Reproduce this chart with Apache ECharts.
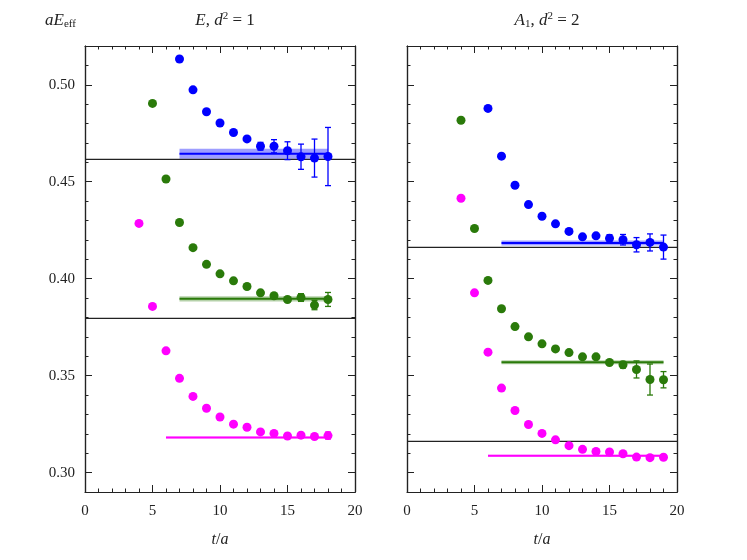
<!DOCTYPE html>
<html>
<head>
<meta charset="utf-8">
<script src="https://cdn.jsdelivr.net/npm/echarts@6/dist/echarts.min.js"></script>
<style>
  html, body { margin: 0; padding: 0; background: #fff; }
  #main { width: 747px; height: 560px; }
</style>
</head>
<body>
<div id="main"></div>
<script>
// left panel: E, d^2 = 1
var leftBlueT = [7, 8, 9, 10, 11, 12, 13, 14, 15, 16, 17, 18];
var leftBlueE = [0.5133, 0.4974, 0.4861, 0.4803, 0.4754, 0.4721, 0.4683, 0.4683, 0.4660, 0.4629, 0.4622, 0.4630];
var leftBlueErr = [0, 0, 0, 0, 0, 0, 0.0020, 0.0034, 0.0046, 0.0065, 0.0098, 0.0150];

var leftGreenT = [5, 6, 7, 8, 9, 10, 11, 12, 13, 14, 15, 16, 17, 18];
var leftGreenE = [0.4904, 0.4514, 0.4290, 0.4160, 0.4074, 0.4025, 0.3989, 0.3960, 0.3927, 0.3912, 0.3893, 0.3903, 0.3864, 0.3893];
var leftGreenErr = [0, 0, 0, 0, 0, 0, 0, 0, 0, 0, 0, 0.0020, 0.0024, 0.0036];

var leftPinkT = [4, 5, 6, 7, 8, 9, 10, 11, 12, 13, 14, 15, 16, 17, 18];
var leftPinkE = [0.4285, 0.3857, 0.3628, 0.3486, 0.3393, 0.3332, 0.3287, 0.3250, 0.3234, 0.3210, 0.3202, 0.3189, 0.3193, 0.3186, 0.3191];
var leftPinkErr = [0, 0, 0, 0, 0, 0, 0, 0, 0, 0, 0, 0, 0, 0, 0.0018];

// fits: [tStart, tEnd, value, error]
var leftFits = [[7, 18, 0.4644, 0.0026], [7, 18, 0.3896, 0.0014], [6, 18, 0.3181, 0.0005]];
var leftThresholds = [0.4615, 0.3795];

// right panel: A1, d^2 = 2
var rightBlueT = [6, 7, 8, 9, 10, 11, 12, 13, 14, 15, 16, 17, 18, 19];
var rightBlueE = [0.4878, 0.4632, 0.4482, 0.4382, 0.4322, 0.4283, 0.4244, 0.4216, 0.4221, 0.4208, 0.4201, 0.4175, 0.4187, 0.4163];
var rightBlueErr = [0, 0, 0, 0, 0, 0, 0, 0, 0, 0.0019, 0.0027, 0.0037, 0.0044, 0.0062];

var rightGreenT = [4, 5, 6, 7, 8, 9, 10, 11, 12, 13, 14, 15, 16, 17, 18, 19];
var rightGreenE = [0.4817, 0.4259, 0.3991, 0.3845, 0.3753, 0.3700, 0.3664, 0.3638, 0.3619, 0.3597, 0.3597, 0.3568, 0.3556, 0.3532, 0.3480, 0.3479];
var rightGreenErr = [0, 0, 0, 0, 0, 0, 0, 0, 0, 0, 0, 0, 0.0017, 0.0044, 0.0080, 0.0042];

var rightPinkT = [4, 5, 6, 7, 8, 9, 10, 11, 12, 13, 14, 15, 16, 17, 18, 19];
var rightPinkE = [0.4415, 0.3927, 0.3621, 0.3436, 0.3320, 0.3248, 0.3202, 0.3169, 0.3139, 0.3120, 0.3109, 0.3106, 0.3097, 0.3080, 0.3077, 0.3079];
var rightPinkErr = [0, 0, 0, 0, 0, 0, 0, 0, 0, 0, 0, 0, 0, 0, 0, 0];

var rightFits = [[7, 19, 0.4184, 0.0013], [7, 19, 0.3569, 0.0010], [6, 19, 0.3087, 0.0005]];
var rightThresholds = [0.4162, 0.3161];

var xTicks = [0, 5, 10, 15, 20];
var yTicks = [0.30, 0.35, 0.40, 0.45, 0.50];
var yMinorTicks = [0.29, 0.31, 0.32, 0.33, 0.34, 0.36, 0.37, 0.38, 0.39, 0.41, 0.42, 0.43, 0.44, 0.46, 0.47, 0.48, 0.49, 0.51, 0.52];
var yMin = 0.29, yMax = 0.52;

var BLUE = '#0000ff', GREEN = '#2a7a0a', PINK = '#ff00ff';
var bandColors = ['rgba(40,40,255,0.45)', 'rgba(42,122,10,0.35)', 'rgba(255,0,255,0.35)'];
var lineColors = [BLUE, GREEN, PINK];
var serif = "'Liberation Serif', 'DejaVu Serif', serif";

var chart = echarts.init(document.getElementById('main'));

function pts(t, e, err) {
    return t.map(function (v, i) { return [v, e[i], err[i]]; });
}

function errRender(params, api) {
    var e = api.value(2);
    if (!e) return;
    var x = api.value(0), y = api.value(1);
    var lo = api.coord([x, y - e]), hi = api.coord([x, y + e]);
    var c = api.visual('color');
    var w = 3;
    var st = { stroke: c, lineWidth: 1.3 };
    return {
        type: 'group',
        children: [
            { type: 'line', shape: { x1: lo[0], y1: lo[1], x2: hi[0], y2: hi[1] }, style: st },
            { type: 'line', shape: { x1: lo[0] - w, y1: lo[1], x2: lo[0] + w, y2: lo[1] }, style: st },
            { type: 'line', shape: { x1: hi[0] - w, y1: hi[1], x2: hi[0] + w, y2: hi[1] }, style: st }
        ]
    };
}

function fitRender(params, api) {
    var t0 = api.value(0), t1 = api.value(1), v = api.value(2), e = api.value(3);
    var a = api.coord([t0, v + e]), b = api.coord([t1, v - e]);
    var m0 = api.coord([t0, v]), m1 = api.coord([t1, v]);
    var idx = params.dataIndex;
    return {
        type: 'group',
        children: [
            { type: 'rect', shape: { x: a[0], y: a[1], width: b[0] - a[0], height: Math.max(b[1] - a[1], 1) },
              style: { fill: bandColors[idx] } },
            { type: 'line', shape: { x1: m0[0], y1: m0[1], x2: m1[0], y2: m1[1] },
              style: { stroke: lineColors[idx], lineWidth: 2 } }
        ]
    };
}

function panelSeries(g, groups, fits, thresholds) {
    var xi = g * 2, yi = g * 4;
    var list = [];
    thresholds.forEach(function (v) {
        list.push({
            type: 'line', xAxisIndex: xi, yAxisIndex: yi, silent: true,
            data: [[0, v], [20, v]], symbol: 'none',
            lineStyle: { color: '#222', width: 1.3 }, z: 3
        });
    });
    list.push({
        type: 'custom', xAxisIndex: xi, yAxisIndex: yi, renderItem: fitRender,
        data: fits, z: 2, silent: true
    });
    groups.forEach(function (gr) {
        list.push({
            type: 'custom', xAxisIndex: xi, yAxisIndex: yi, renderItem: errRender,
            data: gr.data, itemStyle: { color: gr.color }, z: 4, silent: true
        });
        list.push({
            type: 'scatter', xAxisIndex: xi, yAxisIndex: yi,
            data: gr.data, symbolSize: 9, itemStyle: { color: gr.color, opacity: 1 }, z: 5
        });
    });
    return list;
}

function xAxes(g) {
    var base = {
        type: 'value', gridIndex: g, min: 0, max: 20, interval: 5,
        axisLine: { show: true, onZero: false, lineStyle: { color: '#222', width: 1.2 } },
        axisTick: { show: true, inside: true, length: 7, lineStyle: { color: '#222' } },
        minorTick: { show: true, splitNumber: 5, length: 3.5, lineStyle: { color: '#222' } },
        splitLine: { show: false }
    };
    var bottom = echarts.util.merge({
        position: 'bottom',
        axisLabel: { show: true, fontFamily: serif, fontSize: 15, color: '#222', margin: 12,
                     formatter: function (v) { return xTicks.indexOf(v) >= 0 ? String(v) : ''; } },
        name: '{i|t}/{i|a}', nameLocation: 'middle', nameGap: 40,
        nameTextStyle: { fontFamily: serif, fontSize: 16, color: '#222',
                         rich: { i: { fontFamily: serif, fontStyle: 'italic', fontSize: 16, color: '#222' } } }
    }, base, true);
    var top = echarts.util.merge({ position: 'top', axisLabel: { show: false } }, base, true);
    return [bottom, top];
}

function yAxes(g, showLabels) {
    function axis(pos, ticks, len, labels) {
        return {
            type: 'value', gridIndex: g, min: yMin, max: yMax, position: pos, offset: 0,
            splitLine: { show: false },
            axisLine: { show: true, onZero: false, lineStyle: { color: '#222', width: 1.2 } },
            axisTick: { show: true, inside: true, length: len, customValues: ticks, lineStyle: { color: '#222' } },
            axisLabel: {
                show: labels, fontFamily: serif, fontSize: 15, color: '#222', margin: 10,
                customValues: yTicks,
                formatter: function (v) { return v.toFixed(2); }
            }
        };
    }
    return [
        axis('left', yTicks, 7, showLabels),
        axis('right', yTicks, 7, false),
        axis('left', yMinorTicks, 3.5, false),
        axis('right', yMinorTicks, 3.5, false)
    ];
}

var richTitle = {
    i: { fontFamily: serif, fontStyle: 'italic', fontWeight: 'normal', fontSize: 17, color: '#222' },
    r: { fontFamily: serif, fontWeight: 'normal', fontSize: 17, color: '#222' },
    sup: { fontFamily: serif, fontWeight: 'normal', fontSize: 11, color: '#222', verticalAlign: 'top', padding: [0, 0, 8, 0] },
    sub: { fontFamily: serif, fontWeight: 'normal', fontSize: 11, color: '#222', verticalAlign: 'bottom', padding: [8, 0, 0, 0] }
};

var option = {
    backgroundColor: '#fff',
    animation: false,
    title: [
        { text: '{i|aE}{sub|eff}', left: 40, top: 6, textStyle: { fontWeight: 'normal', rich: richTitle } },
        { text: '{i|E}{r|, }{i|d}{sup|2}{r| = 1}', left: 220, top: 6, textAlign: 'center', textStyle: { fontWeight: 'normal', rich: richTitle } },
        { text: '{i|A}{sub|1}{r|, }{i|d}{sup|2}{r| = 2}', left: 542, top: 6, textAlign: 'center', textStyle: { fontWeight: 'normal', rich: richTitle } }
    ],
    grid: [
        { left: 85, right: 392, top: 46, bottom: 68 },
        { left: 407, right: 70, top: 46, bottom: 68 }
    ],
    xAxis: xAxes(0).concat(xAxes(1)),
    yAxis: yAxes(0, true).concat(yAxes(1, false)),
    series: [].concat(
        panelSeries(0, [
            { data: pts(leftBlueT, leftBlueE, leftBlueErr), color: BLUE },
            { data: pts(leftGreenT, leftGreenE, leftGreenErr), color: GREEN },
            { data: pts(leftPinkT, leftPinkE, leftPinkErr), color: PINK }
        ], leftFits, leftThresholds),
        panelSeries(1, [
            { data: pts(rightBlueT, rightBlueE, rightBlueErr), color: BLUE },
            { data: pts(rightGreenT, rightGreenE, rightGreenErr), color: GREEN },
            { data: pts(rightPinkT, rightPinkE, rightPinkErr), color: PINK }
        ], rightFits, rightThresholds)
    )
};

chart.setOption(option);
window.onresize = chart.resize;
</script>
</body>
</html>
